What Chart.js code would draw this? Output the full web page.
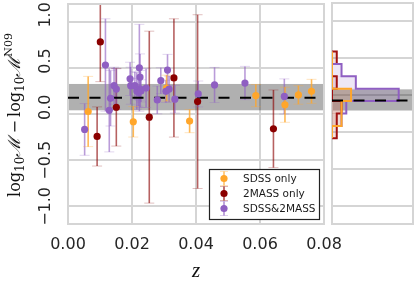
<!DOCTYPE html>
<html>
<head>
<meta charset="utf-8">
<script src="https://cdn.jsdelivr.net/npm/chart.js@4.4.1/dist/chart.umd.min.js"></script>
<style>
  body { margin: 0; background: #fff; }
  #wrap { position: relative; width: 415px; height: 286px; }
  canvas { position: absolute; left: 0; top: 0; }
</style>
</head>
<body>
<div id="wrap">
  <canvas id="mainChart" width="415" height="286"></canvas>
  <canvas id="histChart" width="415" height="286"></canvas>
</div>
<script>
// --- Data ---
const xTicks = [0, 0.02, 0.04, 0.06, 0.08];
const yTicks = [-1.0, -0.5, 0.0, 0.5, 1.0];
const yMin = -1.19, yMax = 1.19;

// SDSS only
const sdssZ   = [0.0063, 0.0204, 0.0308, 0.0380, 0.0587, 0.0678, 0.0720, 0.0761];
const sdssDM  = [0.027, -0.084, 0.28, -0.077, 0.199, 0.10, 0.206, 0.245];
const sdssErr = [0.38, 0.165, 0.14, 0.125, 0.12, 0.19, 0.10, 0.13];

// 2MASS only
const tmassZ   = [0.0091, 0.0101, 0.0151, 0.0254, 0.0331, 0.0405, 0.0642];
const tmassDM  = [-0.243, 0.78, 0.073, -0.034, 0.39, 0.134, -0.16];
const tmassErr = [0.32, 0.43, 0.42, 0.93, 0.64, 0.94, 0.42];

// SDSS&2MASS
const bothZ   = [0.0052, 0.0117, 0.0129, 0.0133, 0.0144, 0.0151, 0.0194, 0.0196, 0.0209,
                 0.0215, 0.0220, 0.0223, 0.0225, 0.0226, 0.0228, 0.0244, 0.0279, 0.0290,
                 0.0306, 0.0311, 0.0316, 0.0334, 0.0407, 0.0458, 0.0553, 0.0676];
const bothDM  = [-0.167, 0.53, 0.04, 0.17, 0.306, 0.27, 0.38, 0.306, 0.306,
                 0.25, 0.235, 0.50, 0.40, 0.27, 0.25, 0.28, 0.152, 0.36,
                 0.245, 0.475, 0.27, 0.16, 0.217, 0.314, 0.335, 0.19];
const bothErr = [0.28, 0.50, 0.45, 0.30, 0.20, 0.22, 0.18, 0.20, 0.15,
                 0.20, 0.15, 0.47, 0.25, 0.20, 0.12, 0.21, 0.15, 0.14,
                 0.12, 0.17, 0.14, 0.15, 0.14, 0.19, 0.18, 0.19];

const legendLabels = ['SDSS only', '2MASS only', 'SDSS&2MASS'];

// offset line and scatter band
const offsetLevel = 0.175;
const bandLow = 0.04, bandHigh = 0.325;

// histogram (counts per bin)
const binEdges = [-0.3333, -0.1667, 0, 0.1667, 0.3333, 0.5, 0.6667, 0.8333];
const histBoth  = [0, 2, 3, 14, 5, 2, 0];
const histSdss  = [0, 2, 2, 4, 0, 0, 0];
const histTmass = [1, 1, 2, 0, 1, 0, 1];
const histMax = 17;

// --- Style ---
const ORANGE = '#ffa62b';
const DARKRED = '#8b0000';
const PURPLE = '#8f5fc2';
const GRID = '#d5d5d5';
const BAND = 'rgba(0,0,0,0.31)';
const TICK_COLOR = '#262626';
const SERIF = '"DejaVu Serif", serif';

Chart.defaults.font.family = '"DejaVu Sans", sans-serif';
Chart.defaults.animation = false;

const toPts = (xs, ys) => xs.map((x, i) => ({ x: x, y: ys[i] }));

function stroke(ctx, x1, y1, x2, y2) {
    ctx.beginPath();
    ctx.moveTo(x1, y1);
    ctx.lineTo(x2, y2);
    ctx.stroke();
}

function drawFrame(chart) {
    const { ctx, chartArea: a } = chart;
    ctx.save();
    ctx.strokeStyle = GRID;
    ctx.lineWidth = 2;
    ctx.strokeRect(a.left, a.top, a.right - a.left, a.bottom - a.top);
    ctx.restore();
}

function drawBand(chart) {
    const { ctx, chartArea: a, scales: { y } } = chart;
    const top = y.getPixelForValue(bandHigh);
    const bot = y.getPixelForValue(bandLow);
    ctx.save();
    ctx.fillStyle = BAND;
    ctx.fillRect(a.left, top, a.right - a.left, bot - top);
    ctx.restore();
}

function drawYTickLabels(chart) {
    const { ctx, scales: { y } } = chart;
    ctx.save();
    ctx.font = '16px "DejaVu Sans"';
    ctx.fillStyle = TICK_COLOR;
    const full = ctx.measureText('\u22121.0').width;
    yTicks.forEach(v => {
        const label = (v < 0 ? '\u2212' : '') + Math.abs(v).toFixed(1);
        ctx.save();
        ctx.translate(50, y.getPixelForValue(v) - full / 2);
        ctx.rotate(-Math.PI / 2);
        ctx.textAlign = 'right';
        ctx.textBaseline = 'alphabetic';
        ctx.fillText(label, 0, 0);
        ctx.restore();
    });
    ctx.restore();
}

function drawYTitle(chart) {
    const { ctx, chartArea: a } = chart;
    const parts = [
        { t: 'log', font: '16px ' + SERIF, dy: 0 },
        { t: '10', font: '12px ' + SERIF, dy: 4 },
        { t: '\u2133', font: 'italic 17px ' + SERIF, dy: 0 },
        { t: '\u2009\u2212\u2009', font: '16px ' + SERIF, dy: 0 },
        { t: 'log', font: '16px ' + SERIF, dy: 0 },
        { t: '10', font: '12px ' + SERIF, dy: 4 },
        { t: '\u2133', font: 'italic 17px ' + SERIF, dy: 0 },
        { t: 'N09', font: '11px ' + SERIF, dy: -8 }
    ];
    ctx.save();
    let total = 0;
    parts.forEach(p => { ctx.font = p.font; p.w = ctx.measureText(p.t).width; total += p.w; });
    ctx.translate(20, 115 + total / 2);
    ctx.rotate(-Math.PI / 2);
    ctx.fillStyle = '#111';
    ctx.textAlign = 'left';
    ctx.textBaseline = 'alphabetic';
    let pos = 0;
    parts.forEach(p => {
        ctx.font = p.font;
        ctx.fillText(p.t, pos, p.dy);
        pos += p.w;
    });
    ctx.restore();
}

function drawXTitle(chart) {
    const { ctx, chartArea: a } = chart;
    ctx.save();
    ctx.font = 'italic 21px "Liberation Serif", serif';
    ctx.fillStyle = '#111';
    ctx.textAlign = 'center';
    ctx.textBaseline = 'alphabetic';
    ctx.fillText('z', (a.left + a.right) / 2, 277);
    ctx.restore();
}

function drawLegend(chart) {
    const { ctx } = chart;
    const colors = [ORANGE, DARKRED, PURPLE];
    const bx = 209.5, by = 169.5, bw = 110, bh = 50;
    ctx.save();
    ctx.fillStyle = '#fff';
    ctx.fillRect(bx, by, bw, bh);
    ctx.strokeStyle = '#222';
    ctx.lineWidth = 1.2;
    ctx.strokeRect(bx, by, bw, bh);
    ctx.font = '10.5px "DejaVu Sans"';
    ctx.textBaseline = 'middle';
    ctx.textAlign = 'left';
    legendLabels.forEach((label, i) => {
        const cy = 178.5 + i * 15;
        const mx = 224;
        ctx.globalAlpha = 0.3;
        ctx.strokeStyle = colors[i];
        ctx.lineWidth = 1;
        stroke(ctx, mx - 4, cy - 7, mx + 4, cy - 7);
        stroke(ctx, mx - 4, cy + 7, mx + 4, cy + 7);
        ctx.globalAlpha = 0.7;
        ctx.lineWidth = 1.6;
        stroke(ctx, mx, cy - 7, mx, cy + 7);
        ctx.globalAlpha = 1;
        ctx.fillStyle = colors[i];
        ctx.beginPath();
        ctx.arc(mx, cy, 3.6, 0, Math.PI * 2);
        ctx.fill();
        ctx.fillStyle = '#1a1a1a';
        ctx.fillText(label, 243, cy + 0.5);
    });
    ctx.restore();
}

const mainDecor = {
    id: 'mainDecor',
    beforeDatasetsDraw(chart) {
        const { ctx, chartArea: a, scales: { x, y } } = chart;
        drawBand(chart);
        ctx.save();
        ctx.beginPath();
        ctx.rect(a.left, a.top, a.right - a.left, a.bottom - a.top);
        ctx.clip();
        // error bars with caps
        chart.data.datasets.forEach(ds => {
            if (!ds.errors) return;
            ds.data.forEach((p, i) => {
                const px = x.getPixelForValue(p.x);
                const top = y.getPixelForValue(p.y + ds.errors[i]);
                const bot = y.getPixelForValue(p.y - ds.errors[i]);
                ctx.strokeStyle = ds.errColor;
                ctx.lineWidth = 1.6;
                stroke(ctx, px, top, px, bot);
                ctx.strokeStyle = ds.capColor;
                ctx.lineWidth = 1;
                stroke(ctx, px - 5, top, px + 5, top);
                stroke(ctx, px - 5, bot, px + 5, bot);
            });
        });
        ctx.restore();
        drawFrame(chart);
    },
    afterDraw(chart) {
        drawYTickLabels(chart);
        drawYTitle(chart);
        drawXTitle(chart);
        drawLegend(chart);
    }
};

function groupDataset(label, xs, ys, errs, color, errColor, capColor) {
    return {
        label: label,
        data: toPts(xs, ys),
        errors: errs,
        errColor: errColor,
        capColor: capColor,
        backgroundColor: color,
        borderWidth: 0,
        pointRadius: 3.6,
        order: 1
    };
}

new Chart(document.getElementById('mainChart'), {
    type: 'scatter',
    data: {
        datasets: [
            {
                label: 'offset',
                data: [{ x: xTicks[0], y: offsetLevel }, { x: xTicks[xTicks.length - 1], y: offsetLevel }],
                showLine: true,
                borderColor: '#000',
                borderWidth: 2,
                borderDash: [11, 10.5],
                pointRadius: 0,
                order: 5
            },
            groupDataset(legendLabels[1], tmassZ, tmassDM, tmassErr, DARKRED, 'rgba(139,0,0,0.62)', 'rgba(139,0,0,0.25)'),
            groupDataset(legendLabels[2], bothZ, bothDM, bothErr, PURPLE, 'rgba(143,95,194,0.62)', 'rgba(143,95,194,0.25)'),
            groupDataset(legendLabels[0], sdssZ, sdssDM, sdssErr, ORANGE, 'rgba(255,166,43,0.8)', 'rgba(255,166,43,0.3)')
        ]
    },
    options: {
        responsive: false,
        layout: { padding: { top: 3, right: 91, left: 0, bottom: 0 } },
        plugins: { legend: { display: false }, tooltip: { enabled: false } },
        scales: {
            x: {
                type: 'linear',
                min: xTicks[0],
                max: xTicks[xTicks.length - 1],
                afterBuildTicks: s => { s.ticks = xTicks.map(v => ({ value: v })); },
                afterFit: s => { s.height = 62; },
                border: { display: false },
                grid: { color: GRID, lineWidth: 2, drawTicks: false },
                ticks: {
                    color: TICK_COLOR,
                    font: { size: 16 },
                    padding: 11,
                    maxRotation: 0,
                    autoSkip: false,
                    callback: v => v.toFixed(2)
                }
            },
            y: {
                type: 'linear',
                min: yMin,
                max: yMax,
                afterBuildTicks: s => { s.ticks = yTicks.map(v => ({ value: v })); },
                afterFit: s => { s.width = 68; },
                border: { display: false },
                grid: { color: GRID, lineWidth: 2, drawTicks: false },
                ticks: { display: false }
            }
        }
    },
    plugins: [mainDecor]
});

// --- Right panel: histogram of offsets ---
function stepOutline(counts) {
    const pts = [{ x: 0, y: binEdges[0] }];
    counts.forEach((c, i) => {
        pts.push({ x: c, y: binEdges[i] });
        pts.push({ x: c, y: binEdges[i + 1] });
    });
    pts.push({ x: 0, y: binEdges[binEdges.length - 1] });
    return pts;
}

function binBars(counts) {
    return counts.map((c, i) => ({ x: c, y: (binEdges[i] + binEdges[i + 1]) / 2 }));
}

function histFill(counts, color, order) {
    return {
        type: 'bar',
        indexAxis: 'y',
        data: binBars(counts),
        backgroundColor: color,
        borderWidth: 0,
        barPercentage: 1,
        categoryPercentage: 1,
        grouped: false,
        order: order
    };
}

function histLine(counts, color, order) {
    return {
        type: 'line',
        indexAxis: 'y',
        data: stepOutline(counts),
        borderColor: color,
        borderWidth: 2,
        pointRadius: 0,
        tension: 0,
        fill: false,
        order: order
    };
}

const histDecor = {
    id: 'histDecor',
    beforeDatasetsDraw(chart) {
        drawBand(chart);
        drawFrame(chart);
    }
};

new Chart(document.getElementById('histChart'), {
    type: 'bar',
    data: {
        datasets: [
            {
                type: 'line',
                indexAxis: 'y',
                data: [{ x: 0, y: offsetLevel }, { x: histMax, y: offsetLevel }],
                borderColor: '#000',
                borderWidth: 2,
                borderDash: [11, 10.5],
                pointRadius: 0,
                order: 0
            },
            histLine(histSdss, ORANGE, 1),
            histLine(histBoth, PURPLE, 2),
            histLine(histTmass, '#a01010', 3),
            histFill(histSdss, 'rgba(255,166,43,0.15)', 10),
            histFill(histBoth, 'rgba(143,95,194,0.15)', 11),
            histFill(histTmass, 'rgba(139,0,0,0.12)', 12)
        ]
    },
    options: {
        responsive: false,
        indexAxis: 'y',
        layout: { padding: { top: 3, right: 2, left: 0, bottom: 0 } },
        plugins: { legend: { display: false }, tooltip: { enabled: false } },
        scales: {
            x: {
                type: 'linear',
                min: 0,
                max: histMax,
                afterFit: s => { s.height = 62; },
                border: { display: false },
                grid: { display: false },
                ticks: { display: false }
            },
            y: {
                type: 'linear',
                min: yMin,
                max: yMax,
                afterBuildTicks: s => { s.ticks = yTicks.map(v => ({ value: v })); },
                afterFit: s => { s.width = 332; },
                border: { display: false },
                grid: { color: GRID, lineWidth: 2, drawTicks: false },
                ticks: { display: false }
            }
        }
    },
    plugins: [histDecor]
});
</script>
</body>
</html>
